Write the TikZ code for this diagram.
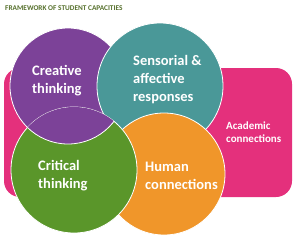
\documentclass[tikz,border=0pt]{standalone}
\usepackage{fontspec}
\setmainfont{Carlito}
\usepackage{xcolor}
\usepackage{tikz}
\definecolor{capPurple}{RGB}{124,66,152}
\definecolor{capTeal}{RGB}{74,152,152}
\definecolor{capGreen}{RGB}{90,150,42}
\definecolor{capOrange}{RGB}{240,150,42}
\definecolor{capPink}{RGB}{228,48,124}
\definecolor{capTitle}{RGB}{86,112,44}
\begin{document}
\begin{tikzpicture}[x=1pt, y=-1pt,
		circ/.style={draw=white, line width=0.8pt},
		lbl/.style={text=white, font=\bfseries\fontsize{14.5}{18}\selectfont, align=left, anchor=west, inner sep=0pt}]
			\useasboundingbox (0,0) rectangle (300,239);
			% title
			\node[anchor=west, inner sep=0pt, text=capTitle, font=\bfseries\fontsize{7.3}{8}\selectfont] (title) at (5,8) {FRAMEWORK OF STUDENT CAPACITIES};
			% background box
			\fill[capPink, rounded corners=16pt] (4,68) rectangle (292,197);
			% circles
			\filldraw[circ, fill=capPurple] (68,86) circle (58);
			\filldraw[circ, fill=capTeal] (160,86) circle (63);
			\filldraw[circ, fill=capOrange] (164,174) circle (61);
			\filldraw[circ, fill=capGreen] (74,170) circle (63);
			\begin{scope}
				\clip (74,170) circle (63);
				\filldraw[circ, fill=capPurple] (68,86) circle (58);
			\end{scope}
			% labels
			\node[lbl] (creative) at (32,81) {Creative\\thinking};
			\node[lbl] (sensorial) at (133,80) {Sensorial \&\\affective\\responses};
			\node[lbl] (critical) at (38,176) {Critical\\thinking};
			\node[lbl] (human) at (145,176) {Human\\connections};
			\node[lbl, font=\bfseries\fontsize{11}{13.5}\selectfont] (academic) at (226,132) {Academic\\connections};
		\end{tikzpicture}
\end{document}
